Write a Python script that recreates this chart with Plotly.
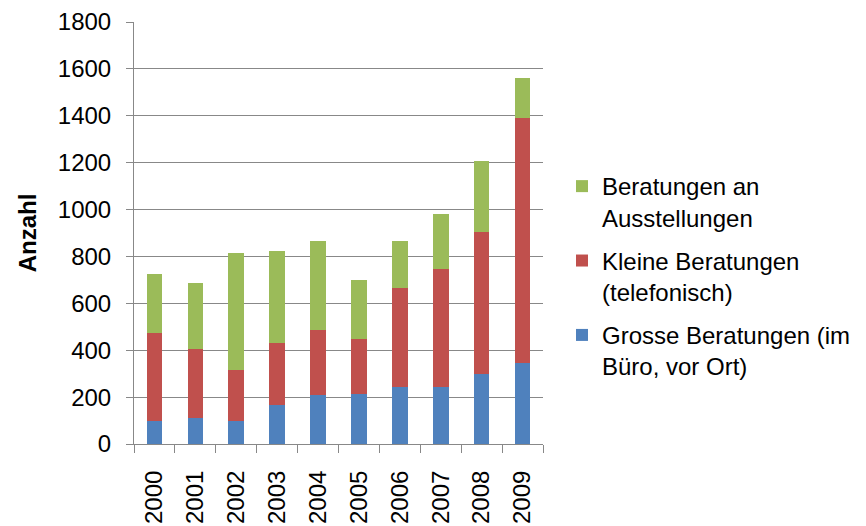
import plotly.graph_objects as go

years = ["2000", "2001", "2002", "2003", "2004", "2005", "2006", "2007", "2008", "2009"]
grosse = [100, 110, 100, 165, 210, 215, 245, 245, 300, 345]
kleine = [375, 295, 215, 265, 275, 235, 420, 500, 605, 1045]
ausstellungen = [250, 280, 500, 395, 380, 250, 200, 235, 300, 170]

names = ["Grosse Beratungen (im<br>Büro, vor Ort)",
         "Kleine Beratungen<br>(telefonisch)",
         "Beratungen an<br>Ausstellungen"]
colors = ["#4F81BD", "#C0504D", "#9BBB59"]
series = [grosse, kleine, ausstellungen]

fig = go.Figure()
for i, (nm, col, vals) in enumerate(zip(names, colors, series)):
    fig.add_trace(go.Bar(x=years, y=vals, name=nm, legendgroup=str(i),
                         legendrank=1000 - i,
                         marker=dict(color=col, line=dict(width=0))))

font = "Liberation Sans, Arial, sans-serif"
fig.update_layout(
    barmode="stack",
    bargap=0.62,
    width=866, height=526,
    margin=dict(l=126, r=331, t=14, b=90),
    plot_bgcolor="white", paper_bgcolor="white",
    font=dict(family=font, size=24, color="#000000"),
    legend=dict(xref="container", yref="container", x=0.6397, y=0.4895,
                xanchor="left", yanchor="middle", traceorder="grouped",
                tracegroupgap=9, valign="top",
                font=dict(size=24, color="#000000")),
    xaxis=dict(type="category", showline=True, linecolor="#888888", linewidth=1,
               ticks="outside", ticklen=8, tickcolor="#888888", tickson="boundaries",
               tickangle=-90, automargin=False, ticklabelstandoff=16,
               showgrid=False),
    yaxis=dict(range=[0, 1800], dtick=200, showline=True, linecolor="#888888",
               linewidth=1, ticks="outside", ticklen=7, tickcolor="#888888",
               showgrid=True, gridcolor="#888888", gridwidth=1, automargin=False,
               zeroline=False, ticklabelstandoff=10,
               title=dict(text="<b>Anzahl</b>", font=dict(size=24), standoff=14)),
)
fig.write_html("out.html")
